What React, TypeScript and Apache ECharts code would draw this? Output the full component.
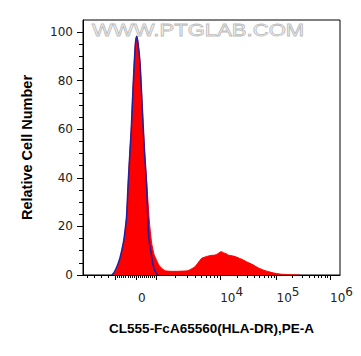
import React, { useEffect, useRef } from "react";
import * as echarts from "echarts";

// ---------- data ----------
// Histogram x positions are in display channels of the biexponential axis (0 channel = value 0)
const redChannel = [
  -23, -21, -19, -17.5, -15.5, -13.5, -12, -10.5, -9.3, -7.7, -6, -4.7, -3.3, -1.7, -0.5, 0.7, 2, 4,
  5.7, 7.3, 8.7, 10.7, 13, 14.3, 15.7, 18, 20.7, 23, 25.7, 28, 31, 39, 47, 52, 55, 59, 62, 65.7, 69,
  72.3, 76, 79, 82, 84, 85.7, 87.3, 90, 92.3, 96, 99, 102, 105.7, 109, 112.3, 116, 119, 122, 125.7,
  129, 132.3, 136, 139, 142, 145.7, 150, 154, 164,
];
const redCount = [
  0, 1, 2.5, 4.5, 7, 10.5, 14, 19, 24, 37.8, 51, 60, 73.5, 87.3, 95.5, 98.3, 95.5, 87.3,
  73.5, 60, 49.5, 37.8, 24, 18, 13, 8.5, 6, 4, 2.8, 2, 1.6, 1.5, 1.6, 1.8, 2.4, 3.4, 5, 6.9, 7.4,
  7.8, 8.1, 8.2, 8.8, 9.4, 9.6, 9.2, 8.8, 8.2, 7.9, 7.6, 7.1, 6.5, 5.8, 5.1, 4.4, 3.7, 3.0, 2.3,
  1.8, 1.4, 1.0, 0.7, 0.5, 0.3, 0.2, 0.1, 0,
];

const blueChannel = [
  -24, -22, -20, -18, -16, -14, -12.3, -10.7, -9.4, -7.8, -6, -4.7, -3.3, -1.7, -0.5, 0.7, 2, 4,
  5.7, 7.3, 8.7, 10.5, 11.8, 12.5, 13.5, 14.7, 16.7, 18.7, 20.7, 22,
];
const blueCount = [
  0, 1, 2.5, 4.5, 7, 10.5, 14, 19, 24, 37.8, 51, 60, 73.5, 87.3, 95.5, 98.3, 95.5, 87.3,
  73.5, 60, 49.5, 37.8, 24, 17, 13, 10.3, 4.8, 2, 0.5, 0,
];

const yMajorTicks = [0, 20, 40, 60, 80, 100];
const yMinorTicks = [5, 10, 15, 25, 30, 35, 45, 50, 55, 65, 70, 75, 85, 90, 95];

const xLabelValues = [0, 1e4, 1e5, 1e6];
const xLabelExponents = ["", "4", "5", "6"];
const xMajorTickValues = [-1e3, 0, 1e3, 1e4, 1e5, 1e6];
const xMinorTickValues = [
  -5000, -4000, -3000, -2000,
  -900, -800, -700, -600, -500, -400, -300, -200, -100,
  100, 200, 300, 400, 500, 600, 700, 800, 900,
  2000, 3000, 4000, 5000, 6000, 7000, 8000, 9000,
  20000, 30000, 40000, 50000, 60000, 70000, 80000, 90000,
  200000, 300000, 400000, 500000, 600000, 700000, 800000, 900000,
];

const xTitle = "CL555-FcA65560(HLA-DR),PE-A";
const yTitle = "Relative Cell Number";
const watermark = "WWW.PTGLAB.COM";

// ---------- biexponential display scale ----------
const LIN_PER_1000 = 20.6;
const DECADES = [20.6, 84.2, 140.6, 194]; // display channel of 1e3, 1e4, 1e5, 1e6
const NEG_STEP = 7;

function toChannel(v: number): number {
  const a = Math.abs(v);
  let d: number;
  if (a <= 1000) d = (a * LIN_PER_1000) / 1000;
  else if (v < 0) d = LIN_PER_1000 + NEG_STEP * (a / 1000 - 1);
  else {
    const lg = Math.log10(a);
    const e = Math.min(Math.floor(lg + 1e-9), 5);
    const k = e - 3;
    d = DECADES[k] + (lg - e) * (DECADES[k + 1] - DECADES[k]);
  }
  return v < 0 ? -d : d;
}

const X_MIN = -53;
const X_MAX = 204;

export default function App() {
  const ref = useRef<HTMLDivElement>(null);

  useEffect(() => {
    if (!ref.current) return;
    const chart = echarts.init(ref.current, undefined, { renderer: "svg" });

    const labelPos = xLabelValues.map(toChannel);
    const fmt = (val: number) => {
      let best = 0;
      let bd = Infinity;
      labelPos.forEach((p, i) => {
        const dd = Math.abs(p - val);
        if (dd < bd) {
          bd = dd;
          best = i;
        }
      });
      const ex = xLabelExponents[best];
      return ex ? `{b|10}{s|${ex}}` : `{z|0}`;
    };

    const labelFont = { fontFamily: "DejaVu Sans", fontSize: 12, color: "#222" };

    chart.setOption({
      animation: false,
      backgroundColor: "#fff",
      grid: {
        left: 83,
        right: 21,
        top: 20,
        bottom: 81,
        show: true,
        borderColor: "#000",
        borderWidth: 1,
        backgroundColor: "transparent",
        containLabel: false,
      },
      xAxis: [
        {
          type: "value",
          min: X_MIN,
          max: X_MAX,
          position: "bottom",
          axisLine: { show: true, onZero: false, lineStyle: { color: "#000", width: 1 } },
          axisTick: {
            show: true,
            length: 5,
            customValues: xMajorTickValues.map(toChannel),
            lineStyle: { color: "#000", width: 1 },
          },
          axisLabel: {
            show: true,
            customValues: labelPos,
            formatter: fmt,
            margin: 10,
            align: "left",
            ...labelFont,
            rich: {
              z: { ...labelFont, lineHeight: 26, padding: [0, 0, 0, 2] },
              b: { ...labelFont, lineHeight: 26 },
              s: { ...labelFont, padding: [0, 0, 12, 0] },
            },
          },
          splitLine: { show: false },
          name: xTitle,
          nameLocation: "middle",
          nameGap: 46,
          nameTextStyle: {
            fontFamily: "Liberation Sans",
            fontWeight: "bold",
            fontSize: 13.5,
            color: "#000",
          },
        },
        {
          type: "value",
          min: X_MIN,
          max: X_MAX,
          position: "bottom",
          axisLine: { show: false, onZero: false },
          axisTick: {
            show: true,
            length: 3,
            customValues: xMinorTickValues.map(toChannel),
            lineStyle: { color: "#000", width: 1 },
          },
          axisLabel: { show: false },
          splitLine: { show: false },
        },
      ],
      yAxis: [
        {
          type: "value",
          min: 0,
          max: 105,
          position: "left",
          axisLine: { show: true, onZero: false, lineStyle: { color: "#000", width: 1 } },
          axisTick: {
            show: true,
            length: 6,
            customValues: yMajorTicks,
            lineStyle: { color: "#000", width: 1 },
          },
          axisLabel: {
            show: true,
            customValues: yMajorTicks,
            margin: 10,
            ...labelFont,
          },
          splitLine: { show: false },
          name: yTitle,
          nameLocation: "middle",
          nameGap: 49,
          nameTextStyle: {
            fontFamily: "Liberation Sans",
            fontWeight: "bold",
            fontSize: 14.5,
            color: "#000",
          },
        },
        {
          type: "value",
          min: 0,
          max: 105,
          position: "left",
          axisLine: { show: false, onZero: false },
          axisTick: {
            show: true,
            length: 4,
            customValues: yMinorTicks,
            lineStyle: { color: "#000", width: 1 },
          },
          axisLabel: { show: false },
          splitLine: { show: false },
        },
      ],
      graphic: [
        {
          type: "text",
          x: 92,
          y: 30,
          scaleX: 1.3,
          z: 0,
          silent: true,
          style: {
            text: watermark,
            fontFamily: "Liberation Sans",
            fontSize: 17,
            fill: "rgba(255,255,255,0)",
            stroke: "#bdbdbd",
            lineWidth: 0.8,
            align: "left",
            verticalAlign: "middle",
          },
        },
      ],
      series: [
        {
          type: "line",
          name: "sample",
          xAxisIndex: 0,
          yAxisIndex: 0,
          data: redChannel.map((c, i) => [c, redCount[i]]),
          showSymbol: false,
          symbol: "none",
          smooth: 0.2,
          lineStyle: { color: "#ff0000", width: 1 },
          areaStyle: { color: "#ff0000", opacity: 1, origin: "start" },
          z: 2,
        },
        {
          type: "line",
          name: "control",
          xAxisIndex: 0,
          yAxisIndex: 0,
          data: blueChannel.map((c, i) => [c, blueCount[i]]),
          showSymbol: false,
          symbol: "none",
          smooth: 0.2,
          lineStyle: { color: "#2a1f96", width: 1.6 },
          z: 3,
        },
      ],
    });

    return () => {
      chart.dispose();
    };
  }, []);

  return (
    <div
      ref={ref}
      style={{ position: "absolute", left: 0, top: 0, width: 361, height: 356, background: "#fff" }}
    />
  );
}
